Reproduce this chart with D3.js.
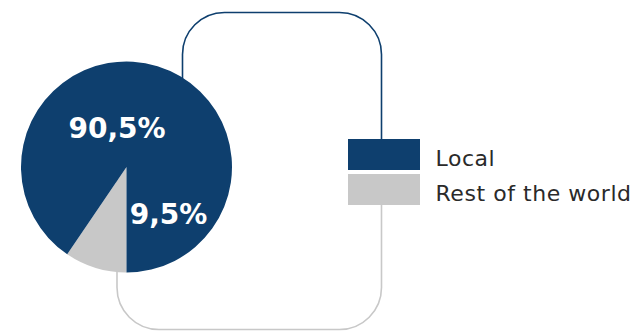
<!DOCTYPE html>
<html>
<head>
<meta charset="utf-8">
<script src="https://cdn.jsdelivr.net/npm/d3@7"></script>
<style>
  html, body { margin: 0; padding: 0; background: #fff; }
  svg { display: block; }
</style>
</head>
<body>
<svg id="chart" width="638" height="331"></svg>
<script>
// Share of sales by origin
const categories = ["Local", "Rest of the world"];
const values = [90.5, 9.5];
const valueLabels = ["90,5%", "9,5%"];
const colors = ["#0e3f6e", "#c8c8c8"];

const svg = d3.select("#chart");
const cx = 126.5, cy = 167, r = 105.5;
const fontFamily = "'DejaVu Sans', sans-serif";

// legend layout
const legX = 348, legY = 139, boxW = 72, boxH = 31, gap = 4;
const lineRight = 381.5;

// connector brackets joining the pie to the legend swatches
const rc = 42;
const topLeftX = 182.5, topY = 12.5;
const topPath = d3.path();
topPath.moveTo(topLeftX, cy);
topPath.lineTo(topLeftX, topY + rc);
topPath.arcTo(topLeftX, topY, topLeftX + rc, topY, rc);
topPath.lineTo(lineRight - rc, topY);
topPath.arcTo(lineRight, topY, lineRight, topY + rc, rc);
topPath.lineTo(lineRight, legY);
svg.append("path").attr("d", topPath.toString())
  .attr("fill", "none").attr("stroke", colors[0]).attr("stroke-width", 1.6);

const botY = 329.5, botLeftX = 117;
const botPath = d3.path();
botPath.moveTo(lineRight, legY + boxH + gap + boxH);
botPath.lineTo(lineRight, botY - rc);
botPath.arcTo(lineRight, botY, lineRight - rc, botY, rc);
botPath.lineTo(botLeftX + rc, botY);
botPath.arcTo(botLeftX, botY, botLeftX, botY - rc, rc);
botPath.lineTo(botLeftX, cy);
svg.append("path").attr("d", botPath.toString())
  .attr("fill", "none").attr("stroke", colors[1]).attr("stroke-width", 1.6);

// pie: the smaller share starts at six o'clock and runs clockwise
const data = categories.map((c, i) => ({ cat: c, value: values[i], label: valueLabels[i], color: colors[i] }));
const pie = d3.pie().sort(null).value(d => d.value)
  .startAngle(Math.PI).endAngle(3 * Math.PI);
const arcs = pie(data.slice().reverse());
const arc = d3.arc().innerRadius(0).outerRadius(r);

const g = svg.append("g").attr("transform", `translate(${cx},${cy})`);
g.selectAll("path.slice").data(arcs).join("path")
  .attr("class", "slice")
  .attr("d", arc)
  .attr("fill", d => d.data.color);

// value labels
const labelPos = { "Local": [-9.5, -29], "Rest of the world": [42, 56.5] };
g.selectAll("text.val").data(arcs).join("text")
  .attr("class", "val")
  .attr("x", d => labelPos[d.data.cat][0])
  .attr("y", d => labelPos[d.data.cat][1])
  .attr("text-anchor", "middle")
  .attr("fill", "#fff")
  .attr("font-family", fontFamily)
  .attr("font-weight", "bold")
  .attr("font-size", 28)
  .text(d => d.data.label);

// legend
const leg = svg.append("g");
data.forEach((d, i) => {
  const y = legY + i * (boxH + gap);
  leg.append("rect").attr("x", legX).attr("y", y)
    .attr("width", boxW).attr("height", boxH).attr("fill", d.color);
  leg.append("text").attr("x", 435.5).attr("y", y + 27)
    .attr("fill", "#2a2a2a")
    .attr("font-family", fontFamily)
    .attr("font-size", 22)
    .attr("letter-spacing", 0.55)
    .text(d.cat);
});
</script>
</body>
</html>
